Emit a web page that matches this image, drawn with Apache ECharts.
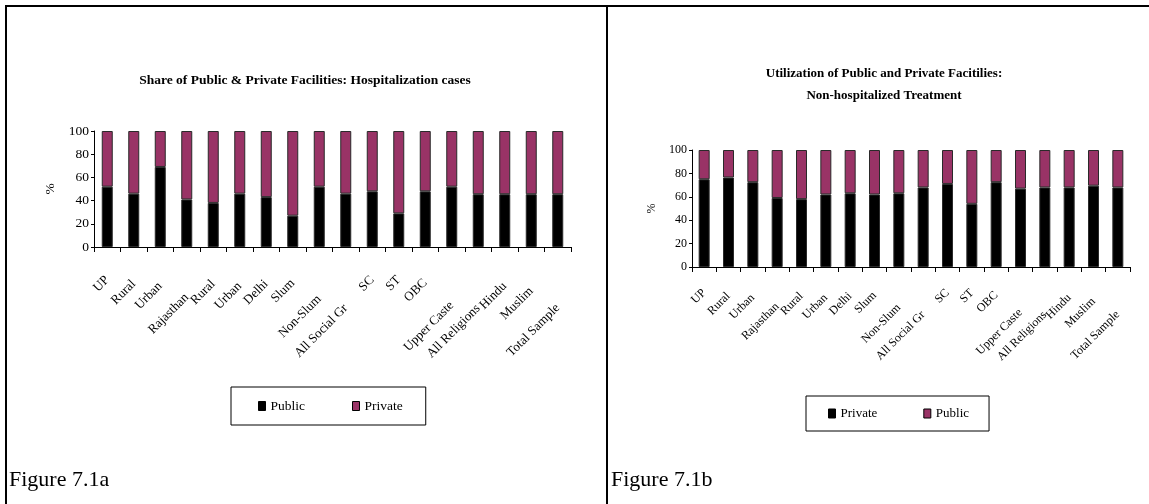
<!DOCTYPE html>
<html>
<head>
<meta charset="utf-8">
<script src="https://cdn.jsdelivr.net/npm/echarts@6/dist/echarts.min.js"></script>
<style>
  html, body { margin: 0; padding: 0; background: #fff; }
  #page { position: relative; width: 1149px; height: 504px; overflow: hidden; background: #fff; }
  .panel { position: absolute; top: 0; height: 504px; }
  #left { left: 0; width: 606px; }
  #right { left: 607px; width: 542px; }
  .rule { position: absolute; background: #000; }
</style>
</head>
<body>
<div id="page">
  <div id="left" class="panel"></div>
  <div id="right" class="panel"></div>
  <div class="rule" style="left:5px;top:5px;width:1144px;height:2px"></div>
  <div class="rule" style="left:5px;top:5px;width:2px;height:499px"></div>
  <div class="rule" style="left:606px;top:5px;width:2px;height:499px"></div>
</div>
<script>
// Categories shared by both figures
const categories = ['UP', 'Rural', 'Urban', 'Rajasthan', 'Rural', 'Urban', 'Delhi', 'Slum', 'Non-Slum',
  'All Social Gr', 'SC', 'ST', 'OBC', 'Upper Caste', 'All Religions', 'Hindu', 'Muslim', 'Total Sample'];

// Figure 7.1a: hospitalization cases (%)
const hospPublic  = [52, 46, 69, 41, 38, 46, 43, 27, 52, 46, 48, 29, 48, 52, 45.5, 45.5, 45.5, 45.5];
const hospPrivate = [48, 54, 31, 59, 62, 54, 57, 73, 48, 54, 52, 71, 52, 48, 54.5, 54.5, 54.5, 54.5];

// Figure 7.1b: non-hospitalized treatment (%)
const nonHospPrivate = [75, 76.5, 72.5, 59, 58, 62, 63, 62, 63, 68, 71, 54, 72.5, 67, 68, 68, 69.5, 68];
const nonHospPublic  = [25, 23.5, 27.5, 41, 42, 38, 37, 38, 37, 32, 29, 46, 27.5, 33, 32, 32, 30.5, 32];

const yTicks = [0, 20, 40, 60, 80, 100];

const FONT = "'Liberation Serif', 'Times New Roman', serif";
const DARK = '#000000';
const PLUM = '#993366';

// Longer slanted category labels sit a little lower, the way the
// spreadsheet lays them out; the drop grows with the label's width.
// A leading empty line pushes the text across its own baseline and the
// right padding pulls it back along it, so together they move it straight down.
const measureCtx = document.createElement('canvas').getContext('2d');
function labelDrops(fontSize, base, k) {
  measureCtx.font = fontSize + "px 'Liberation Serif'";
  return categories.map(name => Math.max(0, (measureCtx.measureText(name).width - base) * k));
}
function categoryItems(drops, fontSize) {
  return categories.map((name, i) => {
    const d = drops[i];
    if (d < 0.5) return { value: name, textStyle: { lineHeight: fontSize * 1.2 } };
    return { value: name, textStyle: { lineHeight: d * 1.414, padding: [0, d * 0.707, 0, 0] } };
  });
}

function buildOption(cfg) {
  const drops = labelDrops(cfg.xLabelSize, cfg.dropBase, cfg.dropK);
  const series = cfg.series.map(s => ({
    name: s.name,
    type: 'bar',
    stack: 'share',
    data: s.data,
    barWidth: cfg.barWidth,
    itemStyle: { color: s.color, borderColor: '#2a2a2a', borderWidth: 1 },
    emphasis: { disabled: true },
    animation: false
  }));
  return {
    animation: false,
    textStyle: { fontFamily: FONT, color: '#000' },
    title: [
      {
        text: cfg.title,
        left: cfg.titleX, top: cfg.titleTop, textAlign: 'center', padding: 0,
        textStyle: { fontFamily: FONT, fontWeight: 'bold', fontSize: cfg.titleSize,
                     lineHeight: cfg.titleLineHeight, color: '#000' }
      },
      {
        text: cfg.caption,
        left: cfg.captionX, top: 469, padding: 0,
        textStyle: { fontFamily: FONT, fontWeight: 'normal', fontSize: 22, color: '#000' }
      }
    ],
    legend: {
      data: cfg.series.map(s => s.name),
      left: cfg.legend.left, top: cfg.legend.top,
      padding: cfg.legend.padding,
      itemGap: cfg.legend.gap,
      itemWidth: 7, itemHeight: 9,
      icon: 'rect',
      borderColor: '#000', borderWidth: 1,
      selectedMode: false,
      itemStyle: { borderColor: '#000', borderWidth: 1 },
      textStyle: { fontFamily: FONT, fontSize: cfg.legend.fontSize, color: '#000' }
    },
    grid: { left: cfg.grid.left, top: cfg.grid.top, width: cfg.grid.width, height: cfg.grid.height,
            containLabel: false },
    xAxis: {
      type: 'category',
      data: categoryItems(drops, cfg.xLabelSize),
      boundaryGap: true,
      axisLine: { lineStyle: { color: '#000', width: 1 } },
      axisTick: { show: true, length: 5, lineStyle: { color: '#000' } },
      axisLabel: {
        interval: 0, rotate: 45, margin: cfg.xLabelMargin, fontFamily: FONT,
        fontSize: cfg.xLabelSize, color: '#000',
        formatter: (value, index) => (drops[index] < 0.5 ? value : '\n' + value)
      },
      splitLine: { show: false }
    },
    yAxis: {
      type: 'value',
      min: yTicks[0], max: yTicks[yTicks.length - 1], interval: yTicks[1] - yTicks[0],
      name: '%', nameLocation: 'middle', nameGap: cfg.yNameGap, nameRotate: 90,
      nameTextStyle: { fontFamily: FONT, fontSize: cfg.yLabelSize, color: '#000' },
      axisLine: { show: true, lineStyle: { color: '#000', width: 1 } },
      axisTick: { show: true, length: 3, lineStyle: { color: '#000' } },
      axisLabel: { margin: 5, fontFamily: FONT, fontSize: cfg.yLabelSize, color: '#000' },
      splitLine: { show: false }
    },
    series: series
  };
}

const leftChart = echarts.init(document.getElementById('left'), null, { renderer: 'canvas' });
leftChart.setOption(buildOption({
  title: 'Share of Public & Private Facilities: Hospitalization cases',
  titleX: 305, titleTop: 73, titleSize: 13.5, titleLineHeight: 16,
  caption: 'Figure 7.1a', captionX: 9,
  grid: { left: 94, top: 131, width: 477, height: 116 },
  barWidth: 11,
  xLabelMargin: 31, xLabelSize: 13, dropBase: 22, dropK: 0.6,
  yLabelSize: 13.5, yNameGap: 27,
  legend: { left: 231, top: 387, padding: [12, 23, 12, 27], gap: 47, fontSize: 13.5 },
  series: [
    { name: 'Public', data: hospPublic, color: DARK },
    { name: 'Private', data: hospPrivate, color: PLUM }
  ]
}));

const rightChart = echarts.init(document.getElementById('right'), null, { renderer: 'canvas' });
rightChart.setOption(buildOption({
  title: 'Utilization of Public and Private Facitilies:\nNon-hospitalized Treatment',
  titleX: 277, titleTop: 63, titleSize: 13, titleLineHeight: 21.5,
  caption: 'Figure 7.1b', captionX: 4,
  grid: { left: 85, top: 150, width: 438, height: 117 },
  barWidth: 11,
  xLabelMargin: 24, xLabelSize: 12, dropBase: 20, dropK: 0.5,
  yLabelSize: 12, yNameGap: 31,
  legend: { left: 199, top: 396, padding: [11, 20, 11, 22], gap: 46, fontSize: 13 },
  series: [
    { name: 'Private', data: nonHospPrivate, color: DARK },
    { name: 'Public', data: nonHospPublic, color: PLUM }
  ]
}));
</script>
</body>
</html>
